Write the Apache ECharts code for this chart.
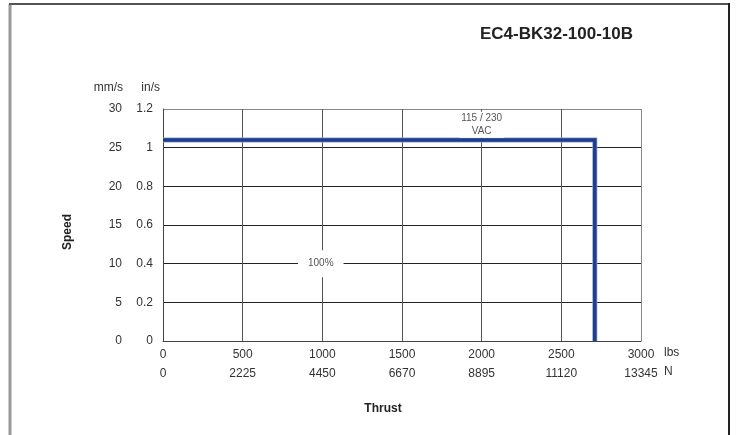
<!DOCTYPE html>
<html>
<head>
<meta charset="utf-8">
<script src="https://cdn.jsdelivr.net/npm/echarts@6/dist/echarts.min.js"></script>
<style>
  html, body { margin: 0; padding: 0; background: #fff; }
  #chart { width: 737px; height: 435px; }
</style>
</head>
<body>
<div id="chart"></div>
<script>
const title = 'EC4-BK32-100-10B'

// thrust in lbs on the main axis, newton labels on the second row
const lbsTicks = [0, 500, 1000, 1500, 2000, 2500, 3000]
const newtonLabels = ['0', '2225', '4450', '6670', '8895', '11120', '13345']

// speed curve (lbs, in/s)
const curveThrust = [0, 2710, 2710]
const curveSpeed = [1.04, 1.04, 0]

const FONT = 'Liberation Sans'

var chart = echarts.init(document.getElementById('chart'), null, { renderer: 'canvas' })

var curve = curveThrust.map((x, i) => [x, curveSpeed[i]])

function unitText (txt, x, y, align) {
  return {
    type: 'text', x: x, y: y,
    style: { text: txt, font: '12px ' + FONT, fill: '#333', align: align, verticalAlign: 'middle' }
  }
}

var option = {
  animation: false,
  textStyle: { fontFamily: FONT },
  title: {
    text: title,
    right: 99,
    top: 21,
    textStyle: { fontFamily: FONT, fontSize: 17, fontWeight: 'bold', color: '#222' }
  },
  grid: { left: 163, top: 109, right: 96, bottom: 94 },
  graphic: [
    { type: 'line', shape: { x1: 10, y1: 4, x2: 10, y2: 435 }, style: { stroke: '#999', lineWidth: 3 } },
    { type: 'line', shape: { x1: 9, y1: 4, x2: 729, y2: 4 }, style: { stroke: '#555', lineWidth: 2 } },
    { type: 'line', shape: { x1: 729, y1: 3, x2: 729, y2: 435 }, style: { stroke: '#222', lineWidth: 2 } },
    {
      type: 'text', x: 68, y: 232, rotation: Math.PI / 2,
      style: { text: 'Speed', font: 'bold 12px ' + FONT, fill: '#222', align: 'center', verticalAlign: 'middle' }
    },
    {
      type: 'text', x: 383, y: 409,
      style: { text: 'Thrust', font: 'bold 12px ' + FONT, fill: '#222', align: 'center', verticalAlign: 'middle' }
    },
    unitText('mm/s', 123, 88, 'right'),
    unitText('in/s', 160, 88, 'right'),
    unitText('lbs', 664, 353, 'left'),
    unitText('N', 664, 372, 'left')
  ],
  xAxis: [
    {
      type: 'value', min: 0, max: 3000, interval: 500,
      position: 'bottom',
      axisLine: { lineStyle: { color: '#444', width: 1 } },
      axisTick: { show: false },
      axisLabel: { fontSize: 12, color: '#333', margin: 8, formatter: v => String(v) },
      splitLine: { show: true, lineStyle: { color: ['#555', '#555', '#555', '#555', '#555', '#555', '#888'], width: 1 } }
    },
    {
      type: 'value', min: 0, max: 3000, interval: 500,
      position: 'bottom', offset: 19,
      axisLine: { show: false },
      axisTick: { show: false },
      axisLabel: {
        fontSize: 12, color: '#333', margin: 8,
        formatter: v => newtonLabels[lbsTicks.indexOf(v)]
      },
      splitLine: { show: false }
    }
  ],
  yAxis: [
    {
      type: 'value', min: 0, max: 1.2, interval: 0.2,
      position: 'left',
      axisLine: { show: true, lineStyle: { color: '#444', width: 1 } },
      axisTick: { show: false },
      axisLabel: { fontSize: 12, color: '#333', margin: 10, formatter: v => String(Math.round(v * 10) / 10) },
      splitLine: { show: true, lineStyle: { color: ['#222', '#222', '#222', '#222', '#222', '#222', '#888'], width: 1 } }
    },
    {
      type: 'value', min: 0, max: 30, interval: 5,
      position: 'left', offset: 31,
      axisLine: { show: false },
      axisTick: { show: false },
      axisLabel: { fontSize: 12, color: '#333', margin: 10 },
      splitLine: { show: false }
    }
  ],
  series: [
    {
      type: 'line',
      xAxisIndex: 0, yAxisIndex: 0,
      data: curve,
      symbol: 'none',
      lineStyle: { color: '#8a9cc8', width: 5, join: 'miter', cap: 'butt' },
      z: 3,
      silent: true
    },
    {
      type: 'line',
      xAxisIndex: 0, yAxisIndex: 0,
      data: curve,
      symbol: 'none',
      lineStyle: { color: '#1d3e8f', width: 3.5, join: 'miter', cap: 'butt' },
      z: 4,
      markPoint: {
        symbol: 'rect', symbolSize: 0, silent: true,
        label: {
          show: true, position: 'inside', color: '#555', fontSize: 10, lineHeight: 13,
          backgroundColor: '#fff'
        },
        data: [
          { coord: [2000, 1.118], value: 'x', label: { formatter: '115 / 230\nVAC', padding: [0, 2] } },
          { coord: [990, 0.4], value: 'x', label: { formatter: '100%', padding: [7, 10] } }
        ]
      }
    }
  ]
}

chart.setOption(option)
</script>
</body>
</html>
